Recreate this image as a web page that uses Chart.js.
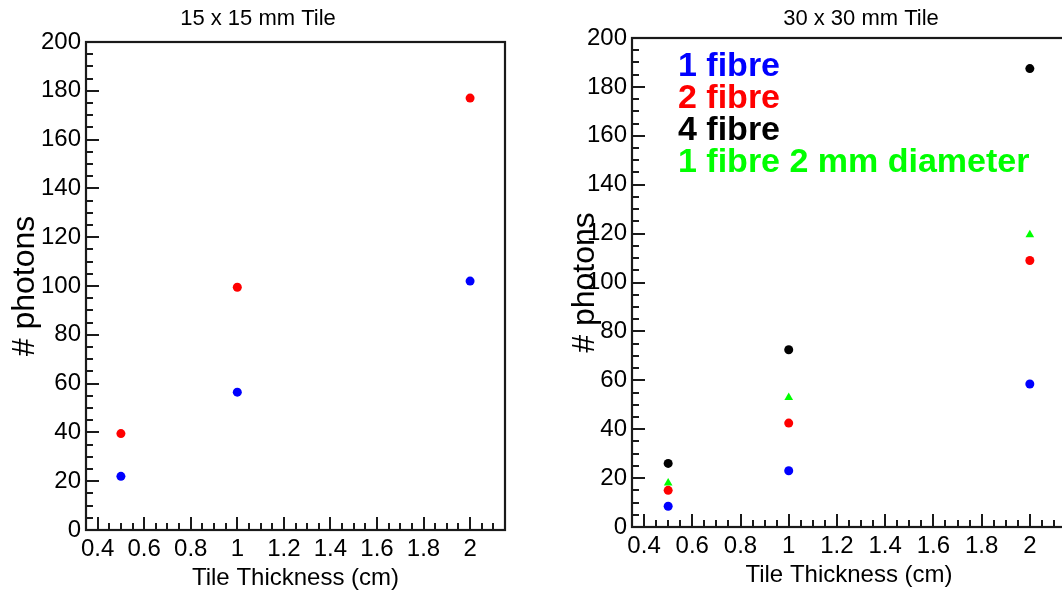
<!DOCTYPE html>
<html lang="en">
<head>
<meta charset="UTF-8">
<title>Photons vs tile thickness</title>
<script src="https://cdn.jsdelivr.net/npm/chart.js"></script>
<style>
    html, body { margin: 0; padding: 0; background: #fff; width: 1062px; height: 594px; overflow: hidden; }
    #painel15 { position: absolute; left: 0; top: 0; }
    #painel30 { position: absolute; left: 540px; top: 0; }
</style>
</head>
<body>
<canvas id="painel15" width="540" height="594"></canvas>
<canvas id="painel30" width="560" height="594"></canvas>

<script>
    // tile thickness (cm)
    const espessura = [0.5, 1, 2];

    // 15 x 15 mm tile
    const tile15_1fibre = [22, 56.5, 102];
    const tile15_2fibre = [39.5, 99.5, 177];

    // 30 x 30 mm tile
    const tile30_1fibre = [8.5, 23, 58.5];
    const tile30_2fibre = [15, 42.5, 109];
    const tile30_4fibre = [26, 72.5, 187.5];
    const tile30_1fibre2mm = [18, 53, 119.5];

    const legendaTextos = ['1 fibre', '2 fibre', '4 fibre', '1 fibre 2 mm diameter'];
    const legendaCores = ['#0000ff', '#ff0000', '#000000', '#00ff00'];

    const xTicks = [0.4, 0.6, 0.8, 1, 1.2, 1.4, 1.6, 1.8, 2];
    const yTicks = [0, 20, 40, 60, 80, 100, 120, 140, 160, 180, 200];

    Chart.defaults.font.family = '"Liberation Sans", Arial, sans-serif';
    Chart.defaults.color = '#000';

    function pontos(valores) {
        return espessura.map((x, i) => ({ x: x, y: valores[i] }));
    }

    function serie(valores, cor, estilo) {
        return {
            data: pontos(valores),
            backgroundColor: cor,
            borderColor: cor,
            borderWidth: 0,
            pointStyle: estilo || 'circle',
            pointRadius: estilo === 'triangle' ? 5 : 4.5,
            pointHoverRadius: estilo === 'triangle' ? 5 : 4.5,
            showLine: false
        };
    }

    // ROOT-like box: frame, inward ticks, title and coloured text legend
    const moldura = {
        id: 'moldura',
        afterDraw(chart, args, opts) {
            const ctx = chart.ctx;
            const a = chart.chartArea;
            const sx = chart.scales.x;
            const sy = chart.scales.y;
            ctx.save();
            ctx.strokeStyle = '#1a1a1a';
            ctx.lineWidth = 2.2;
            ctx.strokeRect(a.left, a.top, a.right - a.left, a.bottom - a.top);

            ctx.lineWidth = 2;
            ctx.beginPath();
            for (let i = Math.round(sx.min / 0.05) + 1; i * 0.05 <= sx.max + 1e-9; i++) {
                const px = Math.round(sx.getPixelForValue(i * 0.05));
                const len = i % 4 === 0 ? 13 : 7;
                ctx.moveTo(px, a.bottom);
                ctx.lineTo(px, a.bottom - len);
            }
            for (let i = 1; i * 5 < sy.max; i++) {
                const py = Math.round(sy.getPixelForValue(i * 5));
                const len = i % 4 === 0 ? 13 : 7;
                ctx.moveTo(a.left, py);
                ctx.lineTo(a.left + len, py);
            }
            ctx.stroke();

            ctx.fillStyle = '#000';
            ctx.font = '22px "Liberation Sans", Arial, sans-serif';
            ctx.textAlign = 'center';
            ctx.textBaseline = 'alphabetic';
            ctx.fillText(opts.titulo, opts.tituloX, 25);

            if (opts.legenda) {
                ctx.font = 'bold 34px "Liberation Sans", Arial, sans-serif';
                ctx.textAlign = 'left';
                legendaTextos.forEach((t, i) => {
                    ctx.fillStyle = legendaCores[i];
                    ctx.fillText(t, opts.legendaX, 76 + i * 32);
                });
            }
            ctx.restore();
        }
    };

    function escalas(larguraY, alturaX, tituloYpad, tituloXpad) {
        return {
            x: {
                type: 'linear',
                min: 0.35,
                max: 2.15,
                afterBuildTicks: s => { s.ticks = xTicks.map(v => ({ value: v })); },
                afterFit: s => { s.height = alturaX; },
                grid: { display: false, drawTicks: false },
                border: { display: false },
                ticks: {
                    padding: 5,
                    font: { size: 24 },
                    callback: v => String(v)
                },
                title: {
                    display: true,
                    text: 'Tile Thickness (cm)',
                    font: { size: 24 },
                    padding: { top: 0, bottom: tituloXpad }
                }
            },
            y: {
                type: 'linear',
                min: 0,
                max: 200,
                afterBuildTicks: s => { s.ticks = yTicks.map(v => ({ value: v })); },
                afterFit: s => { s.width = larguraY; },
                grid: { display: false, drawTicks: false },
                border: { display: false },
                ticks: {
                    padding: 5,
                    font: { size: 24 },
                    callback: v => String(v)
                },
                title: {
                    display: true,
                    text: '# photons',
                    font: { size: 32 },
                    padding: { top: tituloYpad, bottom: 0 }
                }
            }
        };
    }

    new Chart(document.getElementById('painel15'), {
        type: 'scatter',
        data: {
            datasets: [
                serie(tile15_1fibre, '#0000ff'),
                serie(tile15_2fibre, '#ff0000')
            ]
        },
        options: {
            responsive: false,
            animation: false,
            layout: { padding: { top: 42, right: 35, bottom: 0, left: 0 } },
            scales: escalas(86, 64, 6, 1),
            plugins: {
                legend: { display: false },
                tooltip: { enabled: false },
                moldura: { titulo: '15 x 15 mm Tile', tituloX: 258 }
            }
        },
        plugins: [moldura]
    });

    new Chart(document.getElementById('painel30'), {
        type: 'scatter',
        data: {
            datasets: [
                serie(tile30_1fibre, '#0000ff'),
                serie(tile30_2fibre, '#ff0000'),
                serie(tile30_4fibre, '#000000'),
                serie(tile30_1fibre2mm, '#00ff00', 'triangle')
            ]
        },
        options: {
            responsive: false,
            animation: false,
            layout: { padding: { top: 38, right: 34, bottom: 0, left: 0 } },
            scales: escalas(92, 67, 26, 4),
            plugins: {
                legend: { display: false },
                tooltip: { enabled: false },
                moldura: { titulo: '30 x 30 mm Tile', tituloX: 321, legenda: true, legendaX: 138 }
            }
        },
        plugins: [moldura]
    });
</script>
</body>
</html>
